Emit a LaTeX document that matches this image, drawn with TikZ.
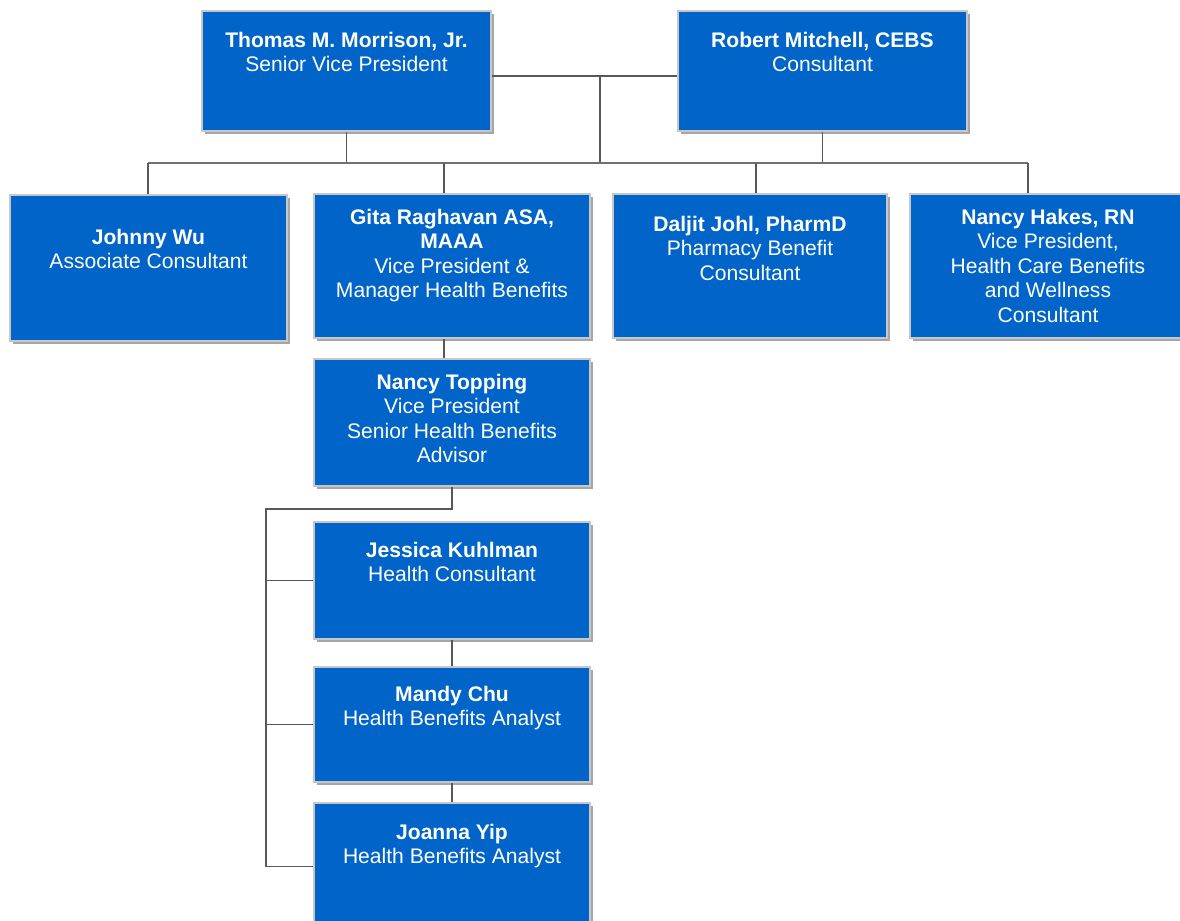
\documentclass[tikz,border=0pt]{standalone}
\usepackage{fontspec}
\setmainfont{Liberation Sans}
\usepackage{xcolor}
\usepackage{tikz}
\usetikzlibrary{positioning, shadows}
\definecolor{unitblue}{RGB}{0,100,200}
\definecolor{wire}{RGB}{88,88,88}

\begin{document}
\begin{tikzpicture}[x=0.02cm, y=-0.02cm,
    unit/.style={fill=unitblue, draw=black!22, line width=0.9pt, inner sep=0pt,
      drop shadow={shadow xshift=1.8pt, shadow yshift=-1.8pt, fill=black, opacity=0.35}},
    who/.style={text=white, align=center, inner sep=0pt, font=\fontsize{12}{13.9}\selectfont},
    link/.style={draw=wire, line width=0.9pt},
    bus/.style={draw=wire!85, line width=0.6pt}]
  \useasboundingbox (0,0) rectangle (1180,920);

  % boxes
  \node [unit, minimum width=5.78cm, minimum height=2.40cm] (tm) at (346.5,71) {};
  \node [unit, minimum width=5.78cm, minimum height=2.40cm] (rm) at (822.5,71) {};
  \node [unit, minimum width=5.54cm, minimum height=2.92cm] (jw) at (148.5,268) {};
  \node [unit, minimum width=5.52cm, minimum height=2.88cm] (gr) at (452,266) {};
  \node [unit, minimum width=5.48cm, minimum height=2.88cm] (dj) at (750,266) {};
  \node [unit, minimum width=5.52cm, minimum height=2.88cm] (nh) at (1048,266) {};
  \node [unit, minimum width=5.52cm, minimum height=2.54cm] (nt) at (452,422.5) {};
  \node [unit, minimum width=5.52cm, minimum height=2.34cm] (jk) at (452,580.5) {};
  \node [unit, minimum width=5.52cm, minimum height=2.30cm] (mc) at (452,724.5) {};
  \node [unit, minimum width=5.52cm, minimum height=2.54cm] (jy) at (452,866.5) {};

  % names and titles
  \node [who, below=0.43cm of tm.north] (tmt) {\textbf{Thomas M. Morrison, Jr.}\\Senior Vice President};
  \node [who, below=0.43cm of rm.north] (rmt) {\textbf{Robert Mitchell, CEBS}\\Consultant};
  \node [who, below=0.69cm of jw.north] (jwt) {\textbf{Johnny Wu}\\Associate Consultant};
  \node [who, below=0.31cm of gr.north] (grt) {\textbf{Gita Raghavan ASA,}\\\textbf{MAAA}\\Vice President \&\\Manager Health Benefits};
  \node [who, below=0.45cm of dj.north] (djt) {\textbf{Daljit Johl, PharmD}\\Pharmacy Benefit\\Consultant};
  \node [who, below=0.31cm of nh.north] (nht) {\textbf{Nancy Hakes, RN}\\Vice President,\\Health Care Benefits\\and Wellness\\Consultant};
  \node [who, below=0.31cm of nt.north] (ntt) {\textbf{Nancy Topping}\\Vice President\\Senior Health Benefits\\Advisor};
  \node [who, below=0.41cm of jk.north] (jkt) {\textbf{Jessica Kuhlman}\\Health Consultant};
  \node [who, below=0.39cm of mc.north] (mct) {\textbf{Mandy Chu}\\Health Benefits Analyst};
  \node [who, below=0.43cm of jy.north] (jyt) {\textbf{Joanna Yip}\\Health Benefits Analyst};

  % connectors
  \coordinate (top) at (600,76);
  \coordinate (hub) at (600,163);
  \coordinate (d1) at (148,163);
  \coordinate (d2) at (444,163);
  \coordinate (d3) at (756,163);
  \coordinate (d4) at (1028,163);
  \coordinate (s1) at (266,509);

  \draw [link] (tm.east |- top) -- (rm.west |- top);
  \draw [link] (top) -- (hub);
  \draw [link] (tm.south) -- (tm.south |- hub);
  \draw [link] (rm.south) -- (rm.south |- hub);
  \draw [bus] (d1) -- (d4);
  \foreach \d/\n in {d1/jw, d2/gr, d3/dj, d4/nh}
    \draw [link] (\d) -- (\d |- \n.north);
  \draw [link] (gr.south -| d2) -- (nt.north -| d2);

  \draw [link] (nt.south) -- (nt.south |- s1) -- (s1) -- (jy.west -| s1);
  \draw [link] (jk.west) -- (jk.west -| s1);
  \draw [link] (mc.west) -- (mc.west -| s1);
  \draw [link] (jy.west) -- (jy.west -| s1);
  \draw [link] (jk.south) -- (mc.north);
  \draw [link] (mc.south) -- (jy.north);
\end{tikzpicture}
\end{document}
